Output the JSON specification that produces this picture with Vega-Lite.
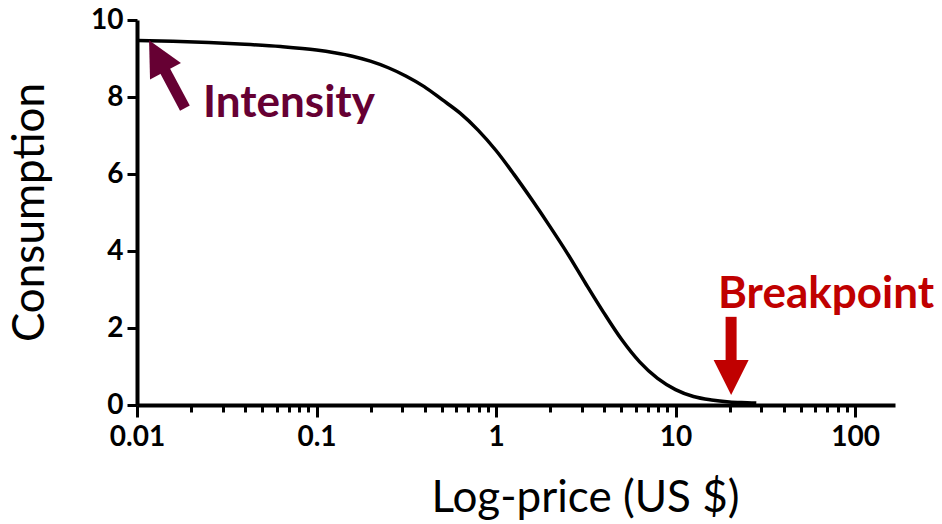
{
  "$schema": "https://vega.github.io/schema/vega-lite/v6.json",
  "width": 758,
  "height": 385,
  "autosize": "none",
  "padding": {"left": 137, "top": 20, "right": 47, "bottom": 119},
  "background": "white",
  "config": {"view": {"stroke": null}, "font": "Lato"},
  "datasets": {
    "curve": [
      {"price": 0.01, "consumption": 9.47},
      {"price": 0.01585, "consumption": 9.45},
      {"price": 0.02512, "consumption": 9.415},
      {"price": 0.03981, "consumption": 9.37},
      {"price": 0.0631, "consumption": 9.31},
      {"price": 0.1, "consumption": 9.22},
      {"price": 0.1259, "consumption": 9.15},
      {"price": 0.1585, "consumption": 9.06},
      {"price": 0.1995, "consumption": 8.93},
      {"price": 0.2512, "consumption": 8.76},
      {"price": 0.3162, "consumption": 8.54},
      {"price": 0.3981, "consumption": 8.27},
      {"price": 0.5012, "consumption": 7.93},
      {"price": 0.631, "consumption": 7.58},
      {"price": 0.7943, "consumption": 7.14},
      {"price": 1, "consumption": 6.61},
      {"price": 1.259, "consumption": 5.99},
      {"price": 1.585, "consumption": 5.33},
      {"price": 1.995, "consumption": 4.64},
      {"price": 2.512, "consumption": 3.92},
      {"price": 3.162, "consumption": 3.15},
      {"price": 3.981, "consumption": 2.4},
      {"price": 5.012, "consumption": 1.7},
      {"price": 6.31, "consumption": 1.12},
      {"price": 7.943, "consumption": 0.69},
      {"price": 10, "consumption": 0.4},
      {"price": 12.59, "consumption": 0.22},
      {"price": 15.85, "consumption": 0.13},
      {"price": 19.95, "consumption": 0.08},
      {"price": 25.12, "consumption": 0.06},
      {"price": 28.18, "consumption": 0.05}
    ],
    "shafts": [
      {"name": "Intensity", "x1": 0.01849, "y1": 7.71, "x2": 0.01396, "y2": 8.78},
      {"name": "Breakpoint", "x1": 20.4, "y1": 2.29, "x2": 20.4, "y2": 1.12}
    ],
    "heads": [
      {"name": "Intensity", "x": 0.01297, "y": 9.07, "angle": 332},
      {"name": "Breakpoint", "x": 20.4, "y": 0.714, "angle": 180}
    ],
    "labels": [
      {"name": "Intensity", "x": 0.02334, "y": 7.49},
      {"name": "Breakpoint", "x": 17.26, "y": 2.51}
    ]
  },
  "layer": [
    {
      "data": {"name": "curve"},
      "mark": {"type": "line", "color": "black", "strokeWidth": 3.5, "interpolate": "monotone", "clip": false},
      "encoding": {
        "x": {
          "field": "price", "type": "quantitative",
          "scale": {"type": "log", "domain": [0.01, 167], "nice": false},
          "axis": {
            "title": "Log-price (US $)",
            "titleFontSize": 44, "titleFontWeight": "normal", "titleColor": "black",
            "titleX": 448, "titleY": 106, "titleBaseline": "alphabetic", "titleAlign": "center",
            "values": [0.01, 0.02, 0.03, 0.04, 0.05, 0.06, 0.07, 0.08, 0.09, 0.1, 0.2, 0.3, 0.4, 0.5, 0.6, 0.7, 0.8, 0.9, 1, 2, 3, 4, 5, 6, 7, 8, 9, 10, 20, 30, 40, 50, 60, 70, 80, 90, 100],
            "format": "~g",
            "labelExpr": "abs(log(datum.value)/LN10 - round(log(datum.value)/LN10)) < 0.001 ? datum.label : ''",
            "labelFontSize": 28, "labelFontWeight": "bold", "labelColor": "black",
            "labelPadding": 6, "labelOverlap": false, "labelFlush": false,
            "domainColor": "black", "domainWidth": 4,
            "tickColor": "black", "tickWidth": 3,
            "tickSize": {"condition": {"test": "abs(log(datum.value)/LN10 - round(log(datum.value)/LN10)) < 0.001", "value": 12}, "value": 7},
            "grid": false
          }
        },
        "y": {
          "field": "consumption", "type": "quantitative",
          "scale": {"domain": [0, 10], "nice": false},
          "axis": {
            "title": "Consumption",
            "titleFontSize": 44, "titleFontWeight": "normal", "titleColor": "black",
            "titleX": -94, "titleY": 192, "titleBaseline": "alphabetic", "titleAlign": "center", "titleAngle": -90,
            "values": [0, 2, 4, 6, 8, 10],
            "labelFontSize": 28, "labelFontWeight": "bold", "labelColor": "black",
            "labelPadding": 4,
            "domainColor": "black", "domainWidth": 4,
            "tickColor": "black", "tickWidth": 3, "tickSize": 10,
            "grid": false
          }
        }
      }
    },
    {
      "data": {"name": "shafts"},
      "mark": {"type": "rule", "strokeWidth": 11, "strokeCap": "butt"},
      "encoding": {
        "x": {"field": "x1", "type": "quantitative"},
        "y": {"field": "y1", "type": "quantitative"},
        "x2": {"field": "x2"},
        "y2": {"field": "y2"},
        "color": {"field": "name", "type": "nominal", "scale": {"domain": ["Intensity", "Breakpoint"], "range": ["#660033", "#C00000"]}, "legend": null}
      }
    },
    {
      "data": {"name": "heads"},
      "mark": {"type": "point", "shape": "M0,-1L1,1L-1,1Z", "size": 1225, "filled": true, "opacity": 1, "strokeWidth": 0},
      "encoding": {
        "x": {"field": "x", "type": "quantitative"},
        "y": {"field": "y", "type": "quantitative"},
        "angle": {"field": "angle", "type": "quantitative", "scale": null},
        "color": {"field": "name", "type": "nominal", "legend": null}
      }
    },
    {
      "data": {"name": "labels"},
      "mark": {"type": "text", "fontSize": 44, "fontWeight": "bold", "align": "left", "baseline": "alphabetic"},
      "encoding": {
        "x": {"field": "x", "type": "quantitative"},
        "y": {"field": "y", "type": "quantitative"},
        "text": {"field": "name"},
        "color": {"field": "name", "type": "nominal", "legend": null}
      }
    }
  ]
}
